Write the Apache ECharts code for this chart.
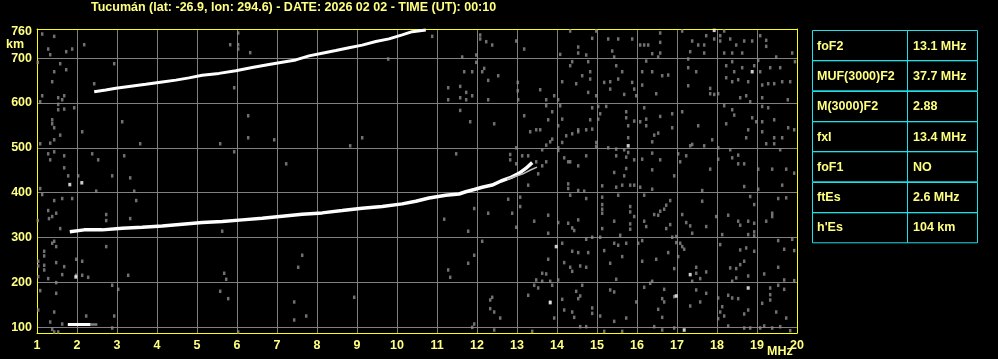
<!DOCTYPE html>
<html>
<head>
<meta charset="utf-8">
<script src="https://cdn.jsdelivr.net/npm/echarts@6/dist/echarts.min.js"></script>
<style>
html,body{margin:0;padding:0;background:#000;}
#chart{width:998px;height:359px;}
</style>
</head>
<body>
<div id="chart"></div>
<script>
// ---------- data ----------
const titleText = 'Tucumán (lat: -26.9, lon: 294.6) - DATE: 2026 02 02 - TIME (UT): 00:10';
const freqTicks = [1,2,3,4,5,6,7,8,9,10,11,12,13,14,15,16,17,18,19,20];
const heightGrid = [100,200,300,400,500,600,700];
const heightLabels = [100,200,300,400,500,600,700,760];

const tableLabels = ['foF2','MUF(3000)F2','M(3000)F2','fxI','foF1','ftEs',"h'Es"];
const tableValues = ['13.1 MHz','37.7 MHz','2.88','13.4 MHz','NO','2.6 MHz','104 km'];

// F2 second-hop trace
const upperTrace = [[2.43,625],[2.72,629],[2.97,633],[3.3,637],[3.72,642],[4.13,647],[4.47,651],[4.8,656],[5.13,662],[5.55,666],[5.97,672],[6.38,679],[6.8,686],[7.13,691],[7.47,696],[7.8,705],[8.13,711],[8.47,717],[8.8,723],[9.13,729],[9.47,737],[9.8,743],[10.13,752],[10.38,759],[10.72,763]];
// F2 first-hop trace
const lowerTrace = [[1.82,313],[2.18,317],[2.63,317],[3.13,320.6],[3.63,323],[4.13,325.9],[4.63,329.6],[5.13,333.3],[5.63,335.5],[6.13,339.3],[6.63,343],[7.13,347.5],[7.63,352],[8.13,354.9],[8.63,360],[9.13,365.3],[9.63,369],[10.13,375],[10.47,381],[10.8,388],[11.22,394],[11.55,397],[11.72,402],[11.93,407],[12.13,412],[12.38,417],[12.6,426],[12.85,434],[13.05,443],[13.22,454],[13.38,467]];
// x-mode branch
const branchTrace = [[12.75,430],[12.95,436],[13.15,442],[13.35,451],[13.5,457]];
// sporadic E
const esTrace = [[1.77,106],[2.34,106]];
const esFaint = [[2.34,106],[2.51,106]];

const noiseWhite = [[1.82,418],[2.12,422],[1.97,212],[17.93,762],[18.88,669.7],[15.78,504.5],[13.98,279.7],[13.83,154.7],[17.33,217.2],[16.98,169.6],[18.78,187.4],[17.18,93.6]];

const noiseGray = [
[1.13,753.8],[1.43,748.6],[2.18,730],[1.28,720.3],[1.73,714.4],[1.33,707.7],[1.88,720.3],[1.02,690.6],[1.58,687.6],[2.93,687.6],
[1.43,669.7],[1.73,674.2],[1.38,647.4],[2.43,642.9],[1.13,616.1],[1.53,611.7],[1.68,616.1],[1.63,607.2],[1.08,602.7],[1.53,596.8],
[1.68,586.4],[1.93,589.3],[1.53,584.9],[1.38,562.5],[1.38,553.6],[1.43,544.7],[1.58,528.3],[2.13,535.8],[3.13,558.1],[1.43,517.9],
[1.33,510.4],[1.08,509],[3.58,509],[1.28,486.6],[1.43,491.1],[1.68,482.2],[2.38,486.6],[2.53,473.2],[3.18,482.2],[1.33,473.2],
[1.68,455.4],[1.78,437.5],[2.03,437.5],[2.88,437.5],[3.33,433],[6.03,756],[5.83,730],[6.03,730],[6.03,720.3],[6.33,712.2],
[5.93,634],[6.28,571.5],[6.28,522.4],[6.93,517.9],[5.58,509],[5.93,491.1],[7.23,464.3],[8.83,504.5],[9.13,522.4],[9.78,698],
[1.08,409.2],[1.13,395.8],[1.43,382.4],[1.63,386.9],[1.88,386.9],[1.28,360.1],[1.48,354.1],[1.38,346.7],[1.3,342.2],[2.73,351.2],
[2.73,337.8],[3.33,342.2],[1.58,319.9],[1.02,337.8],[2.48,403.3],[3.43,403.3],[3.48,382.4],[1.43,291.6],[1.38,287.2],[1.48,279.7],
[2.73,279.7],[1.18,269.3],[1.18,258.9],[1.98,251.4],[2.13,247],[1.48,244],[1.03,247],[1.03,236.5],[1.18,238],[1.68,235],
[1.18,227.6],[1.63,217.2],[1.98,215.7],[2.13,215.7],[2.28,211.2],[1.28,208.3],[1.03,212.7],[3.28,215.7],[1.48,199.3],[2.88,193.4],
[3.03,184.4],[1.08,181.5],[1.48,175.5],[1.03,138.3],[1.43,133.8],[2.23,124.9],[2.93,124.9],[1.33,111.5],[1.63,107],[1.38,95.1],
[1.43,89.2],[1.53,89.2],[2.88,98.1],[6.03,89.2],[5.63,314],[5.68,220.2],[5.73,206.8],[5.58,180],[5.78,163.6],[7.43,156.2],
[7.53,233.6],[7.63,260.4],[7.73,124.9],[7.43,116],[8.93,166.6],
[10.88,748.6],[12.08,751.6],[12.08,742.7],[12.23,736.7],[12.38,729.3],[12.98,738.2],[13.18,720.3],[11.63,702.5],[11.98,707],[11.98,690.6],
[12.18,677.2],[12.13,669.7],[11.68,669.7],[11.88,669.7],[12.53,660.8],[12.28,650.4],[11.58,637],[11.28,634],[11.58,611.7],[11.73,623.6],
[11.73,607.2],[11.28,607.2],[11.88,616.1],[12.28,607.2],[11.58,583.4],[11.83,558.1],[12.43,553.6],[11.48,486.6],[13.02,645.9],[13.02,627.3],
[13.03,607.2],[13.58,629.5],[13.18,571.5],[13.33,535.8],[13.48,540.2],[13.58,540.2],[13.78,562.5],[13.73,607.2],[13.73,593.8],[13.88,580.4],
[13.93,616.1],[14.03,607.2],[14.08,593.8],[14.03,549.2],[14.13,564],[14.23,526.8],[14.38,531.3],[14.53,535.8],[14.73,540.2],[13.63,495.6],
[13.73,506],[13.83,513.4],[13.88,519.4],[14.03,500],[14.13,511.9],[12.98,500],[12.83,485.1],[12.83,473.2],[12.98,464.3],[13.13,482.2],
[13.28,482.2],[13.48,468.8],[13.63,459.8],[13.73,468.8],[13.53,442],[14.33,760.5],[14.98,760.5],[14.88,744.2],[14.53,724.8],[14.53,711.4],
[14.73,707],[14.08,708.4],[14.38,692.1],[14.33,683.1],[14.78,692.1],[14.83,669.7],[14.63,660.8],[14.83,653.4],[14.48,642.9],[14.13,647.4],
[14.78,623.6],[14.98,616.1],[14.88,589.3],[15.03,592.3],[15.23,592.3],[15.08,575.9],[14.83,562.5],[15.03,564],[14.88,541.7],[14.53,540.2],
[14.03,494.1],[14.33,468.8],[14.18,477.7],[14.28,468.8],[14.53,459.8],[14.73,482.2],[14.98,503],[14.98,511.9],[15.28,500],[15.48,497.1],
[15.48,482.2],[15.68,495.6],[15.78,489.6],[15.73,479.2],[15.68,437.5],[15.73,453.9],[15.43,445],[15.28,742.7],[15.53,742.7],[15.38,715.9],
[15.43,702.5],[15.48,683.1],[15.63,669.7],[15.53,653.4],[15.33,647.4],[15.18,645.9],[15.33,631],[15.68,619.1],[15.88,645.9],[15.93,631],
[15.98,616.1],[15.73,580.4],[15.73,567],[15.78,549.2],[15.78,522.4],[15.93,559.6],[16.08,558.1],[16.23,564],[16.23,549.2],[16.18,589.3],
[16.43,528.3],[16.53,532.8],[16.38,488.1],[16.38,450.9],[16.38,513.4],[16.13,474.7],[15.93,473.2],[15.88,742.7],[16.08,729.3],[16.18,729.3],
[16.28,729.3],[16.58,756.1],[16.58,735.2],[16.58,711.4],[16.53,702.5],[16.38,709.9],[16.23,693.5],[16.13,669.7],[16.38,669.7],[16.63,660.8],
[16.78,662.3],[16.13,640],[16.48,620.6],[16.58,570],[16.88,575.9],[16.88,544.7],[16.93,437.5],[16.58,473.2],[17.13,760.5],[17.38,738.2],
[17.53,729.3],[17.68,729.3],[17.68,711.4],[17.33,714.4],[17.28,698],[17.28,678.7],[17.48,669.7],[17.28,638.5],[17.83,632.5],[17.93,619.1],
[17.53,549.2],[17.13,580.4],[17.33,504.5],[17.03,486.6],[17.23,482.2],[17.38,507.5],[17.68,504.5],[17.88,517.9],[18.03,474.7],[17.83,452.4],
[17.08,468.8],[17.73,750.1],[17.93,742.7],[18.08,750.1],[18.08,738.2],[18.18,760.5],[18.33,742.7],[18.48,729.3],[18.68,738.2],[18.88,738.2],
[18.18,711.4],[18.38,711.4],[18.63,711.4],[18.23,683.1],[18.38,692.1],[18.63,678.7],[18.43,669.7],[18.93,683.1],[18.23,656.3],[18.38,647.4],
[18.53,651.9],[18.78,647.4],[19.13,640],[19.28,643],[19.43,643],[19.63,647.4],[19.83,647.4],[19.08,669.7],[19.33,678.7],[19.58,678.7],
[19.08,750.1],[19.23,739.7],[19.23,726.3],[19.48,702.5],[19.88,711.4],[19.95,692.1],[19.03,695],[18.18,593.8],[18.38,584.9],[18.43,573],
[18.23,553.6],[18.88,567],[18.98,558.1],[19.13,558.1],[19.43,562.5],[19.78,544.7],[19.93,540.2],[18.78,540.2],[18.58,611.7],[18.73,616.1],
[18.83,602.7],[19.13,592.3],[19.28,589.3],[19.77,607.2],[19.13,611.7],[18.03,620.6],[17.83,620.6],[18.03,500],[18.33,495.6],[18.53,483.7],
[18.68,464.3],[18.53,464.3],[18.38,477.7],[19.03,452.4],[19.38,452.4],[19.73,452.4],[19.93,443.5],[19.58,495.6],[19.43,522.4],[19.63,522.4],
[19.43,509],[19.23,509],[19.13,535.8],[18.73,522.4],
[11.18,340.8],[11.78,314],[11.93,364.6],[12.28,354.1],[11.93,260.4],[11.78,242.5],[11.28,227.6],[11.33,211.2],[12.13,291.6],[12.78,385.4],
[12.88,354.1],[13.08,389.9],[13.08,369],[13.28,416.7],[13.43,336.3],[12.98,322.9],[13.78,349.7],[13.78,309.5],[13.28,171.1],[13.48,205.3],
[13.63,220.2],[13.63,202.3],[13.73,218.7],[13.83,202.3],[13.88,193.4],[13.53,187.4],[13.43,193.4],[13.78,251.4],[12.38,166.6],[12.33,160.6],
[12.43,133.8],[12.58,120.4],[12.33,141.3],[11.93,107],[11.88,99.6],[12.43,93.6],[13.38,90.7],[13.83,156.2],[13.93,120.4],[14.03,205.3],
[14.03,333.3],[14.28,331.8],[14.38,321.4],[14.43,315.5],[14.53,339.3],[14.13,287.2],[14.38,269.3],[14.53,266.3],[14.73,296.1],[14.78,266.3],
[14.18,244],[14.33,233.6],[14.58,236.5],[14.73,233.6],[14.38,224.6],[14.63,193.4],[14.48,180],[14.58,169.6],[14.53,163.6],[14.13,162.1],
[14.18,138.3],[14.43,121.9],[14.38,133.8],[14.88,142.8],[14.88,130.8],[15.08,124.9],[15.43,178.5],[15.33,183],[15.48,206.8],[15.33,242.5],
[15.18,270.8],[15.43,287.2],[15.63,257.4],[15.53,282.7],[15.73,287.2],[15.73,120.4],[15.43,113],[14.73,101.1],[14.58,101.1],[15.18,90.7],
[15.63,90.7],[14.68,403.3],[14.73,386.9],[15.13,415.2],[15.13,389.9],[15.13,373.5],[15.13,363.1],[15.13,354.1],[15.48,412.2],[15.63,416.7],
[15.83,416.7],[15.93,416.7],[16.08,412.2],[16.38,407.7],[16.18,394.3],[15.53,394.3],[15.83,369],[15.83,357.1],[15.93,346.7],[15.83,330.3],
[15.83,318.4],[15.58,305],[15.43,336.3],[15.13,319.9],[14.88,300.6],[15.08,300.6],[14.53,404.8],[14.33,394.3],[14.28,419.6],[14.28,409.2],
[16.13,293.1],[16.48,251.4],[16.13,247],[16.03,287.2],[16.93,230.6],[16.98,288.6],[17.08,287.2],[17.18,273.8],[16.78,266.3],[17.03,257.4],
[17.13,279.7],[17.48,233.6],[17.73,223.2],[17.48,220.2],[17.58,208.3],[17.38,202.3],[17.48,183],[17.73,175.5],[17.58,156.2],[17.33,147.2],
[16.93,168.1],[16.63,163.6],[16.53,139.8],[16.63,121.9],[16.68,156.2],[16.93,98.1],[16.63,93.6],[16.43,101.1],[16.18,188.9],[16.33,197.8],
[16.38,202.3],[16.68,184.4],[15.98,156.2],[16.18,336.3],[16.23,324.4],[16.43,351.2],[16.53,349.7],[16.58,358.6],[16.68,363.1],[16.73,372],
[16.83,382.4],[16.83,328.8],[16.73,319.9],[16.88,300.6],[16.98,302.1],[17.13,351.2],[17.23,333.3],[17.33,325.9],[17.38,309.5],[17.73,324.4],
[17.63,380.9],[17.63,404.8],[18.08,284.2],[18.58,272.3],[18.73,276.7],[18.93,269.3],[18.33,232.1],[18.48,230.6],[18.58,239.5],[18.68,247],
[18.78,214.2],[19.18,218.7],[19.53,233.6],[19.68,205.3],[19.93,203.8],[19.68,273.8],[19.93,270.8],[19.53,293.1],[19.88,296.1],[18.93,303.5],
[18.28,349.7],[18.53,336.3],[18.78,336.3],[18.93,331.8],[18.93,312.5],[18.78,306.5],[18.58,327.4],[18.13,306.5],[17.98,346.7],[19.23,336.3],
[19.38,354.1],[19.38,346.7],[19.53,386.9],[19.73,388.4],[19.63,416.7],[18.83,391.4],[18.68,413.7],[19.03,407.7],[18.93,373.5],[18.03,165.1],
[18.13,145.7],[18.28,171.1],[18.38,165.1],[18.53,163.6],[18.68,129.4],[18.78,138.3],[19.13,153.2],[19.33,172.5],[19.33,160.6],[19.48,133.8],
[19.68,184.4],[19.53,193.4],[18.08,133.8],[18.18,124.9],[18.03,119],[19.18,102.6],[19.38,98.1],[19.58,101.1],[19.83,92.1],[18.28,102.6],
[18.68,98.1],[18.83,98.1],[19.08,98.1],[19.73,120.4],[19.33,187.4],[18.38,202.3],[18.48,209.8]
];

// ---------- styles ----------
const YEL = '#ffff80';
const AXIS_YEL = '#ffff00';
const GRID_GRAY = '#808080';
const DOT_GRAY = '#8c8c8c';
const CYAN = '#1ee0e8';
const FONT = 'Liberation Sans, Arial, sans-serif';

const chart = echarts.init(document.getElementById('chart'), null, {renderer: 'canvas'});

// table graphic
const tbl = {x0: 812, x1: 907, x2: 977, y0: 30, rowH: 30.3};
const tableGraphics = [];
tableLabels.forEach((lab, i) => {
  const y = tbl.y0 + i * tbl.rowH;
  tableGraphics.push({type:'rect', shape:{x:tbl.x0+0.5, y:Math.round(y)+0.5, width:tbl.x1-tbl.x0, height:tbl.rowH}, style:{fill:null, stroke:CYAN, lineWidth:1}, silent:true});
  tableGraphics.push({type:'rect', shape:{x:tbl.x1+0.5, y:Math.round(y)+0.5, width:tbl.x2-tbl.x1, height:tbl.rowH}, style:{fill:null, stroke:CYAN, lineWidth:1}, silent:true});
  tableGraphics.push({type:'text', x:tbl.x0+5, y:y+tbl.rowH/2+1, style:{text:lab, fill:YEL, font:'bold 12.5px ' + FONT, textVerticalAlign:'middle'}, silent:true});
  tableGraphics.push({type:'text', x:tbl.x1+6, y:y+tbl.rowH/2+1, style:{text:tableValues[i], fill:YEL, font:'bold 12.5px ' + FONT, textVerticalAlign:'middle'}, silent:true});
});

const option = {
  backgroundColor: '#000',
  animation: false,
  title: {
    text: titleText, left: 91, top: 1, padding: 0,
    textStyle: {color: YEL, fontSize: 12.5, fontWeight: 'bold', fontFamily: FONT}
  },
  grid: {left: 37, right: 201, top: 29, bottom: 26, containLabel: false},
  xAxis: [{
    type: 'value', min: 1, max: 20, interval: 1,
    axisLine: {show: true, onZero: false, lineStyle: {color: AXIS_YEL, width: 1}},
    axisTick: {show: false},
    axisLabel: {color: YEL, fontSize: 12.5, fontWeight: 'bold', fontFamily: FONT, margin: 6,
      formatter: v => freqTicks.includes(v) ? String(v) : ''},
    splitLine: {show: true, lineStyle: {color: GRID_GRAY, width: 1}}
  }, {
    type: 'value', min: 1, max: 20, position: 'top',
    axisLine: {show: true, onZero: false, lineStyle: {color: AXIS_YEL, width: 1}},
    axisTick: {show: false}, axisLabel: {show: false}, splitLine: {show: false}
  }],
  yAxis: [{
    type: 'value', min: 87, max: 765,
    axisLine: {show: true, onZero: false, lineStyle: {color: AXIS_YEL, width: 1}},
    axisTick: {show: false, customValues: heightGrid},
    axisLabel: {customValues: heightLabels, color: YEL, fontSize: 12.5, fontWeight: 'bold', fontFamily: FONT, margin: 5},
    splitLine: {show: true, lineStyle: {color: GRID_GRAY, width: 1}}
  }, {
    type: 'value', min: 87, max: 765, position: 'right',
    axisLine: {show: true, onZero: false, lineStyle: {color: AXIS_YEL, width: 1}},
    axisTick: {show: false}, axisLabel: {show: false}, splitLine: {show: false}
  }],
  graphic: [
    {type:'text', x:6, y:45, style:{text:'km', fill:YEL, font:'bold 12.5px ' + FONT, textVerticalAlign:'middle'}, silent:true},
    {type:'text', x:767, y:352, style:{text:'MHz', fill:YEL, font:'bold 12.5px ' + FONT, textVerticalAlign:'middle'}, silent:true}
  ].concat(tableGraphics),
  series: [
    {type:'scatter', data: noiseGray, symbol:'rect', symbolSize:[2.5,3.5], itemStyle:{color:DOT_GRAY}, silent:true, z:2},
    {type:'scatter', data: noiseWhite, symbol:'rect', symbolSize:[3,3.5], itemStyle:{color:'#fff'}, silent:true, z:3},
    {type:'line', data: upperTrace, symbol:'none', lineStyle:{color:'#fff', width:3}, silent:true, z:4},
    {type:'line', data: lowerTrace, symbol:'none', lineStyle:{color:'#fff', width:3.5}, silent:true, z:4},
    {type:'line', data: branchTrace, symbol:'none', lineStyle:{color:'#bbbbbb', width:1.5}, silent:true, z:4},
    {type:'line', data: esTrace, symbol:'none', lineStyle:{color:'#fff', width:3}, silent:true, z:4},
    {type:'line', data: esFaint, symbol:'none', lineStyle:{color:GRID_GRAY, width:2.5}, silent:true, z:4}
  ]
};
chart.setOption(option);
</script>
</body>
</html>
